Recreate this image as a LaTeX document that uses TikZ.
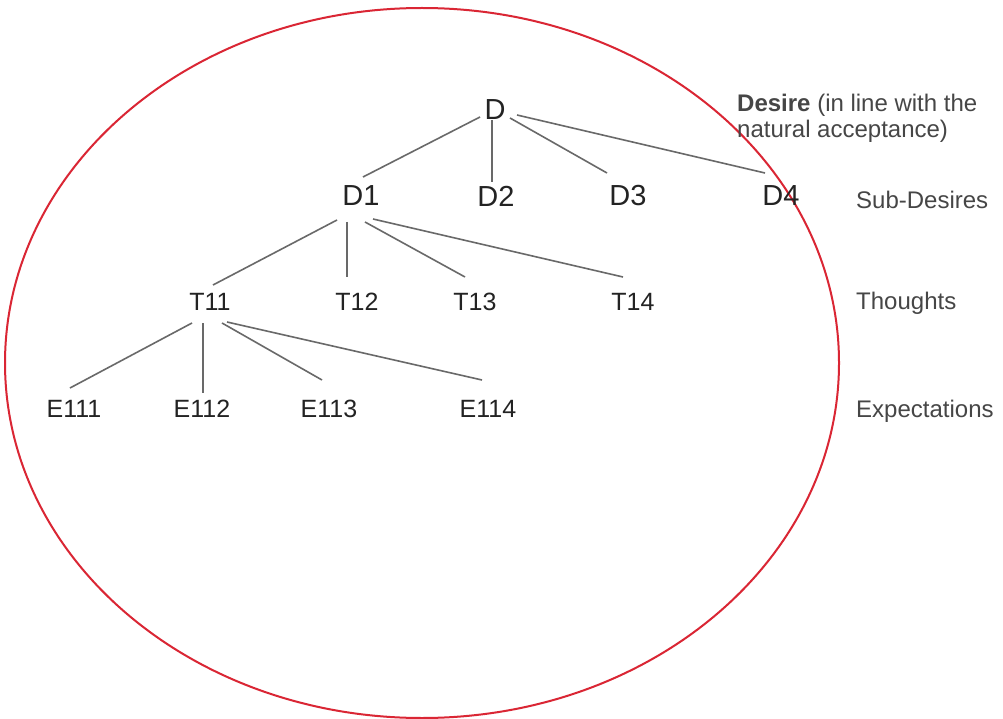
\documentclass[tikz,border=0pt]{standalone}
\usepackage{fontspec}
\setmainfont{Liberation Sans}
\usetikzlibrary{calc}
\definecolor{ringred}{RGB}{218,38,52}
\definecolor{edgegray}{RGB}{105,105,105}
\definecolor{txtdark}{RGB}{35,35,35}
\definecolor{txtgray}{RGB}{70,70,70}
\tikzset{
  big/.style={inner sep=0pt, text=txtdark, font=\fontsize{29}{32}\selectfont},
  small/.style={inner sep=0pt, text=txtdark, font=\fontsize{25}{28}\selectfont},
  side/.style={inner sep=0pt, anchor=base west, text=txtgray, font=\fontsize{24}{28}\selectfont},
  branch/.style={draw=edgegray, line width=1.6pt},
  ring/.style={draw=ringred, line width=2pt}
}
\begin{document}
\begin{tikzpicture}[x=1pt,y=-1pt]
\useasboundingbox (0,0) rectangle (1003,719);
\fill[white] (0,0) rectangle (1003,719);
\draw[ring] (422,363) ellipse [x radius=417, y radius=355];

\node[big] (D) at (495,110) {D};
\node[big] (D1) at (361,196) {D1};
\node[big] (D2) at (496,196) {D2};
\node[big] (D3) at (628,196) {D3};
\node[big] (D4) at (781,196) {D4};

\node[small] (T11) at (210,302) {T11};
\node[small] (T12) at (357,302) {T12};
\node[small] (T13) at (475,302) {T13};
\node[small] (T14) at (633,302) {T14};

\node[small] (E111) at (74,409) {E111};
\node[small] (E112) at (202,409) {E112};
\node[small] (E113) at (329,409) {E113};
\node[small] (E114) at (488,409) {E114};

\node[side] (desA) at (737,112) {\textbf{Desire} (in line with the};
\node[side] (desB) at (737,138) {natural acceptance)};
\node[side] (sub) at (856,209) {Sub-Desires};
\node[side] (tho) at (856,309) {Thoughts};
\node[side] (exp) at (856,417) {Expectations};

\draw[branch] ($(D)+(-15,7)$) -- ($(D1)+(2,-19)$);
\draw[branch] ($(D)+(-3,10)$) -- ($(D2)+(-4,-14)$);
\draw[branch] ($(D)+(15,8)$) -- ($(D3)+(-21,-23)$);
\draw[branch] ($(D)+(22,5)$) -- ($(D4)+(-16,-23)$);

\draw[branch] ($(D1)+(-24,24)$) -- ($(T11)+(3,-17)$);
\draw[branch] ($(D1)+(-14,26)$) -- ($(T12)+(-10,-25)$);
\draw[branch] ($(D1)+(4,26)$) -- ($(T13)+(-10,-25)$);
\draw[branch] ($(D1)+(12,23)$) -- ($(T14)+(-10,-25)$);

\draw[branch] ($(T11)+(-18,21)$) -- ($(E111)+(-4,-21)$);
\draw[branch] ($(T11)+(-7,21)$) -- ($(E112)+(1,-16)$);
\draw[branch] ($(T11)+(12,21)$) -- ($(E113)+(-7,-29)$);
\draw[branch] ($(T11)+(17,20)$) -- ($(E114)+(-6,-29)$);
\end{tikzpicture}
\end{document}
